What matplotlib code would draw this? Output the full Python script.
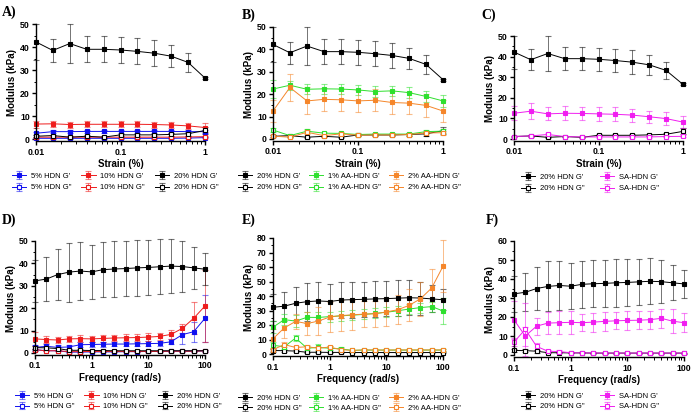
import numpy as np
import matplotlib
matplotlib.use("Agg")
import matplotlib.pyplot as plt
from matplotlib.ticker import LogLocator, FuncFormatter, NullFormatter, MultipleLocator

plt.rcParams['font.family'] = ['Liberation Sans', 'DejaVu Sans']

W, H = 697, 412

# ---------------- Data: amplitude sweep (strain %) ----------------
strain = [0.01, 0.0158, 0.0251, 0.0398, 0.0631, 0.1, 0.158, 0.251, 0.398, 0.631, 1.0]

s20_gp = [42.2, 38.5, 41.5, 39.0, 39.0, 38.7, 38.1, 37.3, 36.0, 33.3, 26.5]
s20_gp_err = [8.0, 5.0, 8.3, 5.7, 5.7, 5.5, 5.6, 5.7, 4.7, 4.2, 0.5]
s20_gpp = [1.2, 1.5, 0.8, 1.2, 0.8, 1.8, 1.8, 1.8, 2.0, 2.3, 3.7]
s20_gpp_err = [0.4, 0.4, 0.3, 0.4, 0.3, 0.5, 0.5, 0.5, 0.6, 0.8, 1.5]

s5_gp = [2.5, 3.2, 3.2, 3.3, 3.3, 3.3, 3.3, 3.3, 3.3, 3.2, 3.2]
s5_gp_err = [0.6, 0.5, 0.5, 0.5, 0.5, 0.5, 0.5, 0.5, 0.5, 0.5, 0.6]
s5_gpp = [0.3, 0.3, 0.3, 0.3, 0.3, 0.3, 0.3, 0.3, 0.3, 0.4, 0.6]
s5_gpp_err = [0.1, 0.1, 0.1, 0.1, 0.1, 0.1, 0.1, 0.1, 0.1, 0.1, 0.2]

s10_gp = [6.5, 6.6, 6.3, 6.4, 6.4, 6.4, 6.4, 6.3, 6.1, 5.7, 5.0]
s10_gp_err = [1.5, 1.2, 1.3, 1.3, 1.3, 1.3, 1.3, 1.3, 1.3, 1.4, 1.8]
s10_gpp = [0.8, 0.8, 0.8, 0.8, 0.8, 0.8, 0.8, 0.8, 0.8, 0.9, 1.0]
s10_gpp_err = [0.2, 0.2, 0.2, 0.2, 0.2, 0.2, 0.2, 0.2, 0.2, 0.2, 0.3]

sAA1_gp = [22.3, 24.0, 22.2, 22.4, 22.3, 21.9, 21.2, 21.5, 20.7, 19.0, 17.0]
sAA1_gp_err = [4.0, 2.0, 2.3, 2.3, 2.3, 2.2, 2.5, 2.3, 2.3, 2.5, 2.5]
sAA1_gpp = [4.0, 1.5, 3.5, 2.6, 2.5, 2.0, 2.2, 2.2, 2.2, 3.3, 3.5]
sAA1_gpp_err = [1.0, 0.5, 0.8, 0.6, 0.6, 0.5, 0.5, 0.5, 0.5, 0.6, 0.8]

sAA2_gp = [12.5, 23.0, 17.0, 17.7, 17.5, 17.0, 17.3, 16.3, 16.0, 15.0, 12.5]
sAA2_gp_err = [5.0, 6.0, 6.0, 5.0, 5.0, 5.0, 5.0, 5.0, 5.0, 5.0, 5.0]
sAA2_gpp = [1.3, 0.8, 3.0, 1.5, 2.3, 1.7, 1.8, 1.8, 2.0, 2.7, 2.8]
sAA2_gpp_err = [0.5, 0.4, 0.8, 0.5, 0.6, 0.5, 0.5, 0.5, 0.5, 0.6, 0.8]

sSA_gp = [12.5, 13.5, 12.2, 12.5, 12.4, 12.2, 12.0, 11.6, 10.8, 9.9, 8.2]
sSA_gp_err = [3.5, 4.0, 3.2, 3.3, 3.3, 3.3, 3.3, 3.2, 3.0, 3.0, 3.0]
sSA_gpp = [1.2, 1.5, 2.2, 1.2, 1.0, 1.0, 1.0, 1.0, 1.0, 1.2, 1.3]
sSA_gpp_err = [0.4, 0.4, 0.6, 0.4, 0.3, 0.3, 0.3, 0.3, 0.3, 0.4, 0.4]

# ---------------- Data: frequency sweep (rad/s) ----------------
freq = [0.1, 0.158, 0.251, 0.398, 0.631, 1.0, 1.58, 2.51, 3.98, 6.31,
        10.0, 15.8, 25.1, 39.8, 63.1, 100.0]

f20_gp = [32.2, 33.0, 35.0, 36.1, 36.6, 36.2, 37.2, 37.5, 37.7, 38.0,
          38.2, 38.5, 38.8, 38.6, 38.0, 37.4]
f20_gp_err = [9.5, 10.0, 11.3, 13.2, 13.0, 12.0, 12.3, 12.4, 12.3, 12.5,
              12.3, 12.2, 12.0, 11.4, 9.3, 7.2]
f20_gpp = [2.4, 2.3, 2.0, 1.2, 1.2, 1.1, 1.1, 1.0, 1.0, 1.0,
           1.0, 1.0, 1.0, 1.0, 1.0, 1.0]
f20_gpp_err = [0.8, 0.8, 0.7, 0.4, 0.4, 0.3, 0.3, 0.3, 0.3, 0.3,
               0.3, 0.3, 0.3, 0.3, 0.3, 0.3]

f5_gp = [2.5, 3.0, 2.5, 2.7, 3.7, 3.8, 3.9, 4.0, 4.0, 4.1,
         4.2, 4.3, 5.0, 8.2, 9.5, 15.5]
f5_gp_err = [1.0, 1.0, 1.0, 1.0, 1.0, 1.0, 1.0, 1.0, 1.0, 1.0,
             1.0, 1.0, 1.2, 4.0, 4.5, 10.5]
f5_gpp = [1.5, 1.0, 1.0, 0.4, 0.4, 0.5, 0.5, 0.5, 0.6, 0.6,
          0.7, 0.7, 0.8, 0.9, 0.8, 1.0]
f5_gpp_err = [0.5, 0.3, 0.3, 0.2, 0.2, 0.2, 0.2, 0.2, 0.2, 0.2,
              0.2, 0.2, 0.2, 0.3, 0.3, 0.4]

f10_gp = [6.3, 6.0, 5.8, 6.3, 6.4, 6.3, 6.5, 6.7, 6.8, 6.9,
          7.1, 7.4, 8.3, 11.0, 15.5, 21.0]
f10_gp_err = [3.0, 1.5, 1.2, 1.5, 1.5, 1.5, 1.5, 1.5, 1.6, 1.6,
              1.7, 1.7, 2.0, 2.0, 7.2, 16.0]
f10_gpp = [1.5, 1.0, 1.0, 0.6, 0.6, 0.7, 0.7, 0.7, 0.7, 0.7,
           0.7, 0.7, 0.8, 0.8, 0.8, 1.0]
f10_gpp_err = [0.5, 0.3, 0.3, 0.2, 0.2, 0.2, 0.2, 0.2, 0.2, 0.2,
               0.2, 0.2, 0.2, 0.3, 0.3, 0.4]

fAA1_gp = [18.5, 23.7, 22.7, 25.3, 25.2, 25.8, 26.3, 26.8, 27.3, 28.0,
           28.8, 29.8, 31.0, 32.0, 32.7, 29.7]
fAA1_gp_err = [4.0, 4.0, 4.0, 4.0, 3.5, 3.5, 3.5, 3.5, 3.5, 3.5,
               3.5, 3.5, 3.5, 3.5, 3.5, 9.0]
fAA1_gpp = [6.0, 5.0, 11.0, 4.0, 4.5, 4.0, 3.5, 2.5, 2.7, 2.7,
            2.7, 2.7, 2.7, 2.7, 2.7, 2.7]
fAA1_gpp_err = [2.0, 1.5, 2.0, 1.2, 2.5, 1.2, 1.0, 0.6, 0.6, 0.6,
                0.6, 0.6, 0.6, 0.6, 0.6, 0.6]

fAA2_gp = [10.5, 18.0, 22.5, 21.0, 22.7, 25.5, 26.5, 27.0, 27.5, 27.7,
           29.0, 30.5, 33.5, 38.0, 45.5, 60.5]
fAA2_gp_err = [7.0, 7.0, 5.0, 8.0, 9.5, 10.5, 10.5, 10.5, 9.0, 9.0,
               9.5, 10.0, 11.0, 12.0, 13.0, 18.0]
fAA2_gpp = [3.0, 6.5, 4.5, 5.0, 4.0, 4.8, 3.0, 2.5, 2.8, 2.8,
            2.7, 2.8, 2.8, 2.8, 2.8, 2.8]
fAA2_gpp_err = [1.0, 2.0, 1.2, 1.2, 1.0, 1.0, 0.8, 0.6, 0.6, 0.6,
                0.6, 0.6, 0.6, 0.6, 0.6, 0.6]

fSA_gp = [18.5, 10.0, 15.2, 16.8, 17.0, 17.2, 17.0, 17.3, 17.7, 18.0,
          18.2, 18.3, 18.6, 19.3, 17.8, 17.0]
fSA_gp_err = [10.0, 5.0, 4.5, 6.0, 6.0, 6.0, 4.5, 5.0, 5.0, 4.5,
              4.8, 4.8, 4.8, 5.0, 6.2, 5.0]
fSA_gpp = [6.8, 13.5, 4.5, 2.0, 1.8, 1.2, 1.1, 1.1, 1.0, 1.0,
           1.0, 1.0, 1.0, 1.0, 1.0, 1.0]
fSA_gpp_err = [2.0, 14.0, 2.0, 0.8, 0.7, 0.4, 0.3, 0.3, 0.3, 0.3,
               0.3, 0.3, 0.3, 0.3, 0.3, 0.3]

BLACK = '#000000'
BLUE = '#1010f0'
RED = '#ee1c1c'
GREEN = '#2ee02e'
ORANGE = '#f5862a'
MAGENTA = '#f01ef0'


def place(fig, px_l, px_r, py_top, py_zero, ymax):
    # put an axes so that data edges land on given pixel positions
    ymin = -0.02 * ymax
    scale = (py_zero - py_top) / ymax
    py_bot = py_zero - ymin * scale
    rect = [px_l / W, 1 - py_bot / H, (px_r - px_l) / W, (py_bot - py_top) / H]
    ax = fig.add_axes(rect)
    ax.set_ylim(ymin, ymax)
    return ax


def series(ax, x, y, err, color, label, filled):
    face = color if filled else 'white'
    h = ax.errorbar(x, y, yerr=err, color=color, lw=0.7, marker='s', ms=3.5,
                    mfc=face, mec=color, mew=0.8, ecolor=color, elinewidth=0.7,
                    capsize=2.2, capthick=0.7, clip_on=False, label=label)
    for c in h[1] + h[2]:
        c.set_alpha(0.55)
        c.set_clip_on(False)
    h[0].set_clip_on(False)
    return h


def style(ax, xlabel, xticks, ymax, ystep):
    ax.set_xscale('log')
    ax.set_xlim(xticks[0], xticks[-1])
    ax.set_xticks(xticks)
    ax.xaxis.set_major_formatter(FuncFormatter(lambda v, p: ('%g' % v)))
    ax.xaxis.set_minor_locator(LogLocator(base=10, subs=np.arange(2, 10)))
    ax.xaxis.set_minor_formatter(NullFormatter())
    ax.set_yticks(np.arange(0, ymax + 1, ystep))
    ax.yaxis.set_minor_locator(MultipleLocator(ystep / 2))
    ax.spines['top'].set_visible(False)
    ax.spines['right'].set_visible(False)
    ax.spines['left'].set_bounds(0, ymax)
    for s in ('left', 'bottom'):
        ax.spines[s].set_linewidth(1.0)
    ax.tick_params(which='major', length=3, width=1.0, labelsize=6.3, pad=1.5)
    ax.tick_params(which='minor', length=1.8, width=0.7)
    for t in ax.get_xticklabels() + ax.get_yticklabels():
        t.set_fontweight('bold')
    ax.set_xlabel(xlabel, fontsize=7, fontweight='bold', labelpad=2)
    ax.set_ylabel('Modulus (kPa)', fontsize=7, fontweight='bold', labelpad=2)


def legend(fig, handles, px_x, px_y, ncol, colsp, lsp):
    fig.legend(handles=handles, loc='upper left',
               bbox_to_anchor=(px_x / W, 1 - px_y / H), ncol=ncol,
               frameon=False, fontsize=5.5, handlelength=1.9, handletextpad=0.6,
               columnspacing=colsp, labelspacing=lsp, borderaxespad=0,
               borderpad=0.2)


def letter(fig, text, px_x, px_y):
    fig.text(px_x / W, 1 - px_y / H, text, fontsize=10, fontweight='bold',
             family=['Liberation Serif', 'DejaVu Serif'], va='center', ha='left')


fig = plt.figure(figsize=(W / 100, H / 100), dpi=100)

# ---- A ----
ax = place(fig, 36, 205, 24, 139, 50)
hs = [
    series(ax, strain, s5_gp, s5_gp_err, BLUE, "5% HDN G'", True),
    series(ax, strain, s5_gpp, s5_gpp_err, BLUE, '5% HDN G"', False),
    series(ax, strain, s10_gp, s10_gp_err, RED, "10% HDN G'", True),
    series(ax, strain, s10_gpp, s10_gpp_err, RED, '10% HDN G"', False),
    series(ax, strain, s20_gpp, s20_gpp_err, BLACK, '20% HDN G"', False),
    series(ax, strain, s20_gp, s20_gp_err, BLACK, "20% HDN G'", True),
]
style(ax, 'Strain (%)', [0.01, 0.1, 1], 50, 10)
legend(fig, [hs[0], hs[1], hs[2], hs[3], hs[5], hs[4]], 10, 171, 3, 1.3, 0.55)
letter(fig, 'A)', 2, 12)

# ---- B ----
ax = place(fig, 273, 443, 27, 139, 50)
hs = [
    series(ax, strain, s20_gp, s20_gp_err, BLACK, "20% HDN G'", True),
    series(ax, strain, s20_gpp, s20_gpp_err, BLACK, '20% HDN G"', False),
    series(ax, strain, sAA1_gp, sAA1_gp_err, GREEN, "1% AA-HDN G'", True),
    series(ax, strain, sAA1_gpp, sAA1_gpp_err, GREEN, '1% AA-HDN G"', False),
    series(ax, strain, sAA2_gp, sAA2_gp_err, ORANGE, "2% AA-HDN G'", True),
    series(ax, strain, sAA2_gpp, sAA2_gpp_err, ORANGE, '2% AA-HDN G"', False),
]
style(ax, 'Strain (%)', [0.01, 0.1, 1], 50, 10)
legend(fig, hs, 236, 171, 3, 1.0, 0.55)
letter(fig, 'B)', 242, 15)

# ---- C ----
ax = place(fig, 514, 683, 36, 139, 50)
hs = [
    series(ax, strain, s20_gp, s20_gp_err, BLACK, "20% HDN G'", True),
    series(ax, strain, s20_gpp, s20_gpp_err, BLACK, '20% HDN G"', False),
    series(ax, strain, sSA_gp, sSA_gp_err, MAGENTA, "SA-HDN G'", True),
    series(ax, strain, sSA_gpp, sSA_gpp_err, MAGENTA, 'SA-HDN G"', False),
]
style(ax, 'Strain (%)', [0.01, 0.1, 1], 50, 10)
legend(fig, hs, 519, 172, 2, 2.0, 0.55)
letter(fig, 'C)', 481, 15)

# ---- D ----
ax = place(fig, 35, 205, 241, 353, 50)
hs = [
    series(ax, freq, f5_gp, f5_gp_err, BLUE, "5% HDN G'", True),
    series(ax, freq, f5_gpp, f5_gpp_err, BLUE, '5% HDN G"', False),
    series(ax, freq, f10_gp, f10_gp_err, RED, "10% HDN G'", True),
    series(ax, freq, f10_gpp, f10_gpp_err, RED, '10% HDN G"', False),
    series(ax, freq, f20_gpp, f20_gpp_err, BLACK, '20% HDN G"', False),
    series(ax, freq, f20_gp, f20_gp_err, BLACK, "20% HDN G'", True),
]
style(ax, 'Frequency (rad/s)', [0.1, 1, 10, 100], 50, 10)
legend(fig, [hs[0], hs[1], hs[2], hs[3], hs[5], hs[4]], 13, 391, 3, 1.3, 0.4)
letter(fig, 'D)', 2, 220)

# ---- E ----
ax = place(fig, 273, 443, 238, 354, 80)
hs = [
    series(ax, freq, f20_gp, f20_gp_err, BLACK, "20% HDN G'", True),
    series(ax, freq, f20_gpp, f20_gpp_err, BLACK, '20% HDN G"', False),
    series(ax, freq, fAA1_gp, fAA1_gp_err, GREEN, "1% AA-HDN G'", True),
    series(ax, freq, fAA1_gpp, fAA1_gpp_err, GREEN, '1% AA-HDN G"', False),
    series(ax, freq, fAA2_gp, fAA2_gp_err, ORANGE, "2% AA-HDN G'", True),
    series(ax, freq, fAA2_gpp, fAA2_gpp_err, ORANGE, '2% AA-HDN G"', False),
]
style(ax, 'Frequency (rad/s)', [0.1, 1, 10, 100], 80, 10)
legend(fig, hs, 236, 393, 3, 1.0, 0.3)
letter(fig, 'E)', 242, 220)

# ---- F ----
ax = place(fig, 514, 684, 241, 355, 60)
hs = [
    series(ax, freq, f20_gp, f20_gp_err, BLACK, "20% HDN G'", True),
    series(ax, freq, f20_gpp, f20_gpp_err, BLACK, '20% HDN G"', False),
    series(ax, freq, fSA_gp, fSA_gp_err, MAGENTA, "SA-HDN G'", True),
    series(ax, freq, fSA_gpp, fSA_gpp_err, MAGENTA, 'SA-HDN G"', False),
]
style(ax, 'Frequency (rad/s)', [0.1, 1, 10, 100], 60, 10)
legend(fig, hs, 519, 391, 2, 2.0, 0.4)
letter(fig, 'F)', 486, 220)

fig.savefig('out.png', dpi=100)
